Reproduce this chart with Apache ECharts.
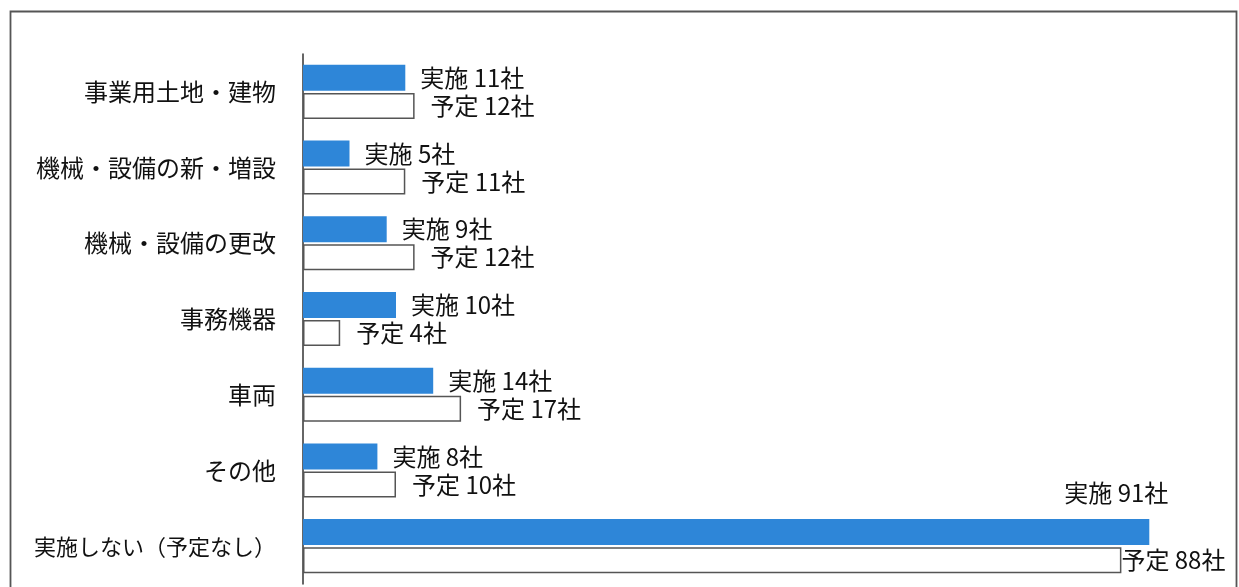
<!DOCTYPE html>
<html><head><meta charset="utf-8">
<script src="https://cdn.jsdelivr.net/npm/echarts@6/dist/echarts.min.js"></script>
<style>html,body{margin:0;padding:0;background:#fff}#c{width:1239px;height:587px}</style>
</head><body><div id="c"></div>
<script>
const categories = ['事業用土地・建物','機械・設備の新・増設','機械・設備の更改','事務機器','車両','その他','実施しない（予定なし）'];
const jisshi = [11, 5, 9, 10, 14, 8, 91];
const yotei = [12, 11, 12, 4, 17, 10, 88];
const seriesNames = ['実施', '予定'];

const font = '"Noto Sans CJK JP", "Noto Sans", sans-serif';
const chart = echarts.init(document.getElementById('c'), null, {renderer: 'canvas'});
const lastIdx = categories.length - 1;

const jData = jisshi.map((v, i) => i === lastIdx ? {
  value: v,
  label: {position: ['100%', -14], align: 'right', verticalAlign: 'bottom', offset: [19, 0]}
} : v);
const yData = yotei.map((v, i) => i === lastIdx ? {
  value: v, label: {distance: 0}
} : v);

chart.setOption({
  animation: false,
  graphic: [{type: 'rect', shape: {x: 10.5, y: 11.5, width: 1226, height: 600},
    style: {fill: 'none', stroke: '#555', lineWidth: 1.8}, z: -1}],
  grid: {left: 303, top: 54, width: 930, height: 530, containLabel: false},
  xAxis: {type: 'value', min: 0, max: 100, show: false},
  yAxis: {
    type: 'category', data: categories, inverse: true,
    axisLine: {show: true, lineStyle: {color: '#333', width: 1.5}},
    axisTick: {show: false},
    axisLabel: {fontFamily: font, fontSize: 24, color: '#111', margin: 27,
      formatter: (v, i) => i === lastIdx ? '{s|' + v + '}' : v,
      rich: {s: {fontFamily: font, fontSize: 22, color: '#111'}}}
  },
  series: [
    {name: seriesNames[0], type: 'bar', data: jData, barWidth: 26, barGap: '8%',
      itemStyle: {color: '#2E86D8'},
      label: {show: true, position: 'right', distance: 15, fontFamily: font, fontSize: 24, color: '#111',
        formatter: p => seriesNames[0] + ' ' + p.value + '社'}},
    {name: seriesNames[1], type: 'bar', data: yData, barWidth: 26,
      itemStyle: {color: '#fff', borderColor: '#555', borderWidth: 1.5},
      label: {show: true, position: 'right', distance: 16, fontFamily: font, fontSize: 24, color: '#111',
        formatter: p => seriesNames[1] + ' ' + p.value + '社'}}
  ]
});
</script></body></html>
